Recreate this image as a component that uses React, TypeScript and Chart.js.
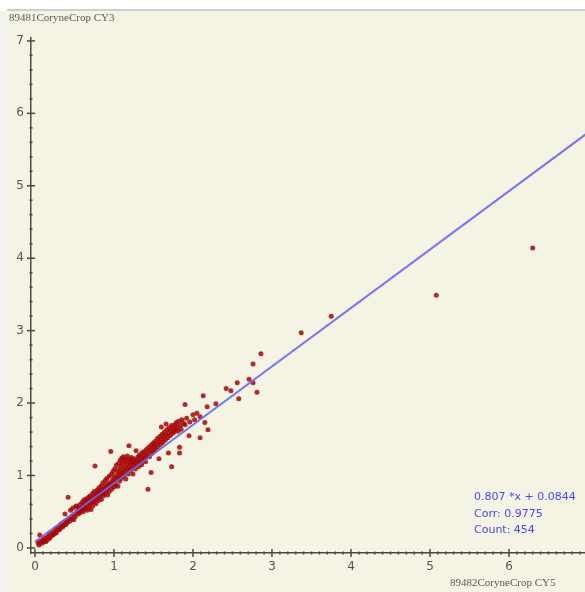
import React, { useEffect, useRef } from "react";
import { Chart, registerables } from "chart.js";

Chart.register(...registerables);

// ---- data (x = 89482CoryneCrop CY5, y = 89481CoryneCrop CY3) ----
const lowCluster: [number, number][] = [
  [0.04, 0.07], [0.05, 0.04], [0.06, 0.18], [0.07, 0.09], [0.08, 0.06], [0.1, 0.11], [0.11, 0.08],
  [0.12, 0.14], [0.13, 0.1], [0.14, 0.09], [0.16, 0.15], [0.17, 0.12], [0.18, 0.19], [0.19, 0.14],
  [0.21, 0.17], [0.22, 0.22], [0.23, 0.18], [0.25, 0.2], [0.26, 0.26], [0.27, 0.21], [0.28, 0.24],
  [0.3, 0.29], [0.31, 0.25], [0.32, 0.27], [0.33, 0.33], [0.35, 0.29], [0.36, 0.31], [0.37, 0.36],
  [0.38, 0.47], [0.39, 0.32], [0.4, 0.38], [0.41, 0.35], [0.42, 0.7], [0.43, 0.41], [0.44, 0.37],
  [0.45, 0.52], [0.46, 0.4], [0.47, 0.44], [0.48, 0.55], [0.49, 0.39], [0.5, 0.47], [0.51, 0.43],
  [0.52, 0.58],
];

const midCluster: [number, number][] = [
  [0.53, 0.5], [0.54, 0.56], [0.55, 0.47], [0.56, 0.53], [0.57, 0.6], [0.57, 0.49], [0.58, 0.55],
  [0.59, 0.52], [0.6, 0.63], [0.6, 0.57], [0.61, 0.5], [0.62, 0.59], [0.62, 0.66], [0.63, 0.54],
  [0.64, 0.61], [0.64, 0.57], [0.65, 0.68], [0.66, 0.52], [0.66, 0.63], [0.67, 0.59], [0.68, 0.7],
  [0.68, 0.55], [0.69, 0.65], [0.7, 0.61], [0.7, 0.72], [0.71, 0.53], [0.71, 0.67], [0.72, 0.63],
  [0.73, 0.75], [0.73, 0.58], [0.74, 0.69], [0.75, 0.64], [0.75, 0.78], [0.76, 0.71], [0.76, 1.13],
  [0.77, 0.61], [0.77, 0.74], [0.78, 0.68], [0.79, 0.8], [0.79, 0.72], [0.8, 0.65], [0.8, 0.76],
  [0.81, 0.83], [0.82, 0.7], [0.82, 0.78], [0.83, 0.74], [0.84, 0.86], [0.84, 0.67], [0.85, 0.8],
  [0.86, 0.76], [0.86, 0.9], [0.87, 0.72], [0.87, 0.83], [0.88, 0.79], [0.89, 0.93], [0.89, 0.75],
  [0.9, 0.85], [0.91, 0.81], [0.91, 0.96], [0.92, 0.73], [0.92, 0.88], [0.93, 0.84], [0.94, 0.99],
  [0.94, 0.78], [0.95, 0.9], [0.96, 0.86], [0.96, 1.33], [0.97, 1.02], [0.97, 0.81], [0.98, 0.93],
  [0.99, 0.89], [0.99, 1.06], [1.0, 0.84], [1.0, 0.97],
];

const upperCluster: [number, number][] = [
  [1.01, 1.09], [1.01, 0.92], [1.02, 0.87], [1.03, 1.0], [1.03, 1.14], [1.04, 0.95], [1.05, 1.05],
  [1.05, 0.85], [1.06, 1.17], [1.06, 0.98], [1.07, 0.92], [1.07, 1.09], [1.08, 1.21], [1.08, 1.02],
  [1.09, 0.96], [1.09, 1.13], [1.1, 1.24], [1.1, 1.04], [1.11, 0.99], [1.11, 1.17], [1.12, 1.08],
  [1.12, 1.26], [1.13, 1.01], [1.13, 1.2], [1.14, 1.12], [1.15, 0.95], [1.15, 1.23], [1.15, 1.06],
  [1.16, 1.16], [1.17, 1.09], [1.17, 1.27], [1.18, 1.02], [1.18, 1.19], [1.19, 1.41], [1.19, 1.12],
  [1.2, 1.22], [1.21, 1.07], [1.21, 1.16], [1.22, 1.25], [1.23, 1.11], [1.23, 1.19], [1.24, 1.02],
  [1.25, 1.14], [1.25, 1.23], [1.26, 1.18], [1.27, 1.09], [1.28, 1.34], [1.28, 1.21], [1.29, 1.15],
  [1.3, 1.25], [1.31, 1.12], [1.31, 1.2], [1.32, 1.28], [1.33, 1.17], [1.34, 1.23], [1.35, 1.15],
  [1.35, 1.31], [1.36, 1.26], [1.37, 1.2], [1.38, 1.33], [1.39, 1.24], [1.4, 1.29], [1.4, 1.19],
  [1.41, 1.36], [1.42, 1.27], [1.43, 0.81], [1.43, 1.32], [1.44, 1.39], [1.45, 1.26], [1.46, 1.35],
  [1.47, 1.04], [1.47, 1.42], [1.48, 1.31], [1.49, 1.38], [1.5, 1.45], [1.5, 1.33],
];

const topCluster: [number, number][] = [
  [1.51, 1.4], [1.52, 1.47], [1.53, 1.36], [1.54, 1.43], [1.55, 1.51], [1.56, 1.4], [1.57, 1.23],
  [1.57, 1.47], [1.58, 1.54], [1.59, 1.43], [1.6, 1.5], [1.6, 1.67], [1.61, 1.57], [1.62, 1.46],
  [1.63, 1.53], [1.64, 1.6], [1.65, 1.49], [1.66, 1.56], [1.66, 1.71], [1.67, 1.63], [1.68, 1.52],
  [1.69, 1.31], [1.69, 1.59], [1.7, 1.66], [1.71, 1.55], [1.72, 1.62], [1.73, 1.12], [1.73, 1.69],
  [1.74, 1.58], [1.75, 1.65], [1.76, 1.6], [1.77, 1.7], [1.78, 1.63], [1.79, 1.73], [1.8, 1.67],
  [1.81, 1.61], [1.82, 1.75], [1.83, 1.39], [1.83, 1.31], [1.84, 1.69], [1.85, 1.64], [1.86, 1.77],
  [1.88, 1.72], [1.9, 1.98], [1.9, 1.7], [1.92, 1.79], [1.95, 1.55], [1.96, 1.74], [2.0, 1.84],
  [2.02, 1.77], [2.05, 1.86], [2.09, 1.81], [2.09, 1.52], [2.13, 2.1], [2.15, 1.73], [2.18, 1.95],
  [2.19, 1.63], [2.29, 1.99],
];

const outliers: [number, number][] = [
  [2.42, 2.2], [2.48, 2.17], [2.56, 2.28], [2.58, 2.06], [2.71, 2.33], [2.76, 2.28], [2.76, 2.54],
  [2.81, 2.15], [2.86, 2.68], [3.37, 2.97], [3.75, 3.2], [5.08, 3.49], [6.3, 4.14],
];

const slope = 0.807;
const intercept = 0.0844;
const corr = 0.9775;
const count = 454;
const fitXRange = [0, 7];
const majorTicks = [0, 1, 2, 3, 4, 5, 6, 7];
const yTitle = "89481CoryneCrop CY3";
const xTitle = "89482CoryneCrop CY5";

const allPoints = [...lowCluster, ...midCluster, ...upperCluster, ...topCluster, ...outliers].map(
  ([x, y]) => ({ x, y })
);
const fitLine = fitXRange.map((x) => ({ x, y: slope * x + intercept }));

const decorPlugin = {
  id: "decor",
  beforeDraw(chart: any) {
    const { ctx, width, height } = chart;
    ctx.save();
    ctx.fillStyle = "#ffffff";
    ctx.fillRect(0, 0, width, height);
    ctx.fillStyle = "#f2f2ef";
    ctx.fillRect(0, 11, 7, height);
    ctx.fillStyle = "#f5f3e4";
    ctx.fillRect(7, 11, width, height);
    ctx.fillStyle = "#cfcfcf";
    ctx.fillRect(7, 9, width, 2);
    ctx.restore();
  },
  afterDraw(chart: any) {
    const { ctx, scales } = chart;
    const xs = scales.x;
    const ys = scales.y;
    const ax = xs.left;
    const ay = ys.bottom;
    ctx.save();
    ctx.strokeStyle = "#4a4a4a";
    // minor ticks
    ctx.lineWidth = 1.6;
    for (let i = 1; i < 70; i++) {
      if (i % 10 === 0) continue;
      const px = xs.getPixelForValue(i / 10);
      ctx.beginPath();
      ctx.moveTo(px, ay - 1.5);
      ctx.lineTo(px, ay + 1.5);
      ctx.stroke();
    }
    for (let i = 1; i < 36; i++) {
      if (i % 5 === 0) continue;
      const py = ys.getPixelForValue(i / 5);
      ctx.beginPath();
      ctx.moveTo(ax - 1.5, py);
      ctx.lineTo(ax + 1.5, py);
      ctx.stroke();
    }
    // major ticks
    ctx.lineWidth = 1.5;
    majorTicks.forEach((v) => {
      const px = xs.getPixelForValue(v);
      ctx.beginPath();
      ctx.moveTo(px, ay - 4);
      ctx.lineTo(px, ay + 4);
      ctx.stroke();
      const py = ys.getPixelForValue(v);
      ctx.beginPath();
      ctx.moveTo(ax - 4, py);
      ctx.lineTo(ax + 4, py);
      ctx.stroke();
    });
    // titles
    ctx.fillStyle = "#5a5a5a";
    ctx.font = "11px 'Liberation Serif', serif";
    ctx.textBaseline = "middle";
    ctx.textAlign = "left";
    ctx.fillText(yTitle, 9, 18);
    ctx.fillText(xTitle, 450, 583);
    // regression text
    ctx.fillStyle = "#4848f0";
    ctx.font = "11px 'DejaVu Sans', sans-serif";
    ctx.fillText(`${slope} *x + ${intercept}`, 474, 497);
    ctx.fillText(`Corr: ${corr}`, 474, 514);
    ctx.fillText(`Count: ${count}`, 474, 530);
    ctx.restore();
  },
};

export default function App() {
  const ref = useRef<HTMLCanvasElement | null>(null);
  useEffect(() => {
    if (!ref.current) return;
    const chart = new Chart(ref.current, {
      type: "scatter",
      data: {
        datasets: [
          {
            type: "line",
            data: fitLine,
            borderColor: "rgba(105,105,240,0.9)",
            borderWidth: 2,
            pointRadius: 0,
            showLine: true,
            fill: false,
          } as any,
          {
            data: allPoints,
            backgroundColor: "rgba(165,8,8,0.85)",
            borderWidth: 0,
            pointRadius: 2.5,
          },
        ],
      },
      options: {
        animation: false,
        responsive: false,
        maintainAspectRatio: false,
        devicePixelRatio: 1,
        layout: { padding: { left: 0, top: 38, right: 12, bottom: 0 } },
        plugins: { legend: { display: false }, tooltip: { enabled: false } },
        scales: {
          x: {
            type: "linear",
            min: -0.05,
            max: 7,
            afterBuildTicks: (s: any) => {
              s.ticks = majorTicks.map((v) => ({ value: v }));
            },
            afterFit: (s: any) => {
              s.height = 39;
            },
            grid: { display: false, drawTicks: false },
            border: { display: true, color: "#4a4a4a", width: 1.5 },
            ticks: {
              color: "#555",
              font: { family: "'DejaVu Sans', sans-serif", size: 12 },
              padding: 7,
              maxRotation: 0,
              autoSkip: false,
              callback: (v: any) => String(v),
            },
          },
          y: {
            type: "linear",
            min: -0.07,
            max: 7.04,
            afterBuildTicks: (s: any) => {
              s.ticks = majorTicks.map((v) => ({ value: v }));
            },
            afterFit: (s: any) => {
              s.width = 31;
            },
            grid: { display: false, drawTicks: false },
            border: { display: true, color: "#4a4a4a", width: 1.5 },
            ticks: {
              color: "#555",
              font: { family: "'DejaVu Sans', sans-serif", size: 12 },
              padding: 7,
              autoSkip: false,
              callback: (v: any) => String(v),
            },
          },
        },
      },
      plugins: [decorPlugin],
    });
    return () => chart.destroy();
  }, []);
  return (
    <div style={{ position: "fixed", left: 0, top: 0, width: 585, height: 592, overflow: "hidden", background: "#fff" }}>
      <canvas ref={ref} width={600} height={592} style={{ display: "block", width: 600, height: 592 }} />
    </div>
  );
}
